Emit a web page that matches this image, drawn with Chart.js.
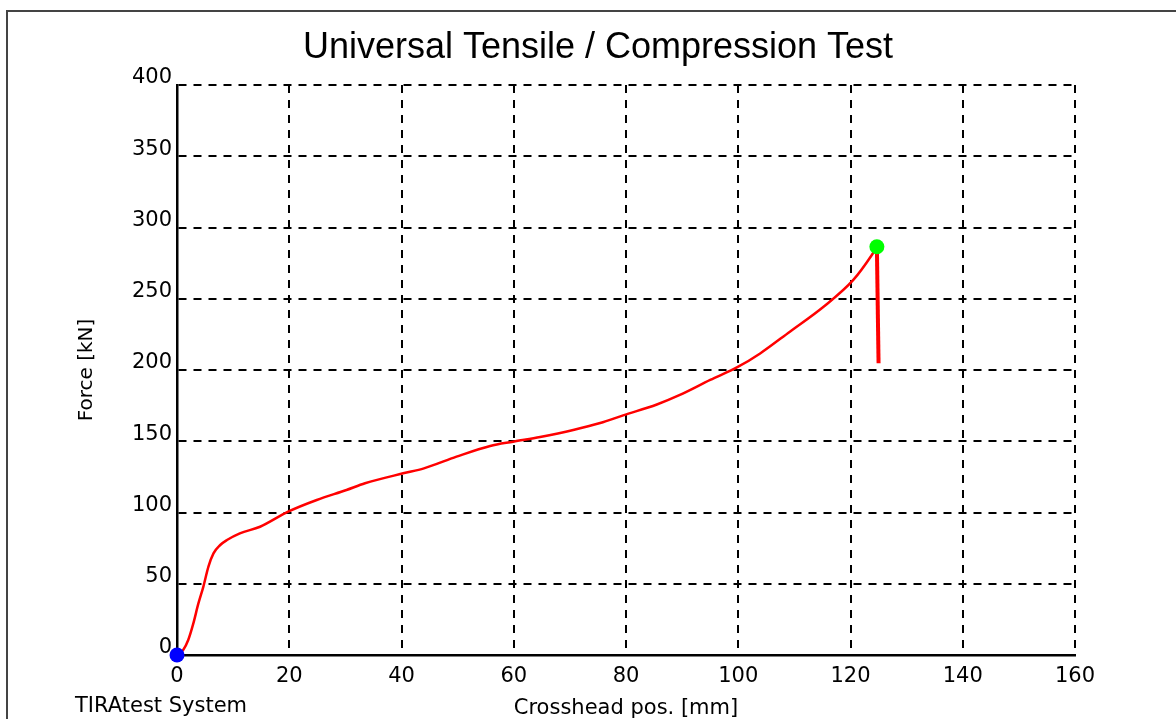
<!DOCTYPE html>
<html>
<head>
<meta charset="utf-8">
<title>Universal Tensile / Compression Test</title>
<script src="https://cdn.jsdelivr.net/npm/chart.js@4"></script>
<style>
  body { margin: 0; background: #fff; }
  #wrap { width: 1176px; height: 719px; position: relative; }
</style>
</head>
<body>
<div id="wrap"><canvas id="tensileChart"></canvas></div>
<script>
// Crosshead position [mm] and force [kN]
const crossheadPos = [0, 1.1, 2.0, 2.9, 3.8, 4.7, 5.6, 6.5, 7.7, 8.9, 11.2, 14.8, 19.8, 24.9, 30.2, 33.5,
    40.3, 44, 49.8, 55.8, 59.9, 64.7, 70.6, 75.4, 79.5, 85.5, 89.6, 95, 100, 103.9, 109.2, 115.2,
    120.5, 123.8, 124.7];
const force = [0, 3.5, 10.5, 22, 36, 48, 62, 71.3, 77.2, 80.7, 85.4, 90, 100.6, 108.8, 115.8, 120.5,
    127.5, 131, 139.2, 146.7, 149.7, 153, 157.9, 162.8, 168.2, 175.8, 182.5, 193, 202.3, 211.6, 226.9,
    244.4, 263.2, 280.7, 286.5];

// Break (drop after maximum force)
const breakPos = [124.7, 125.0];
const breakForce = [286.5, 204.7];

const xTicks = [0, 20, 40, 60, 80, 100, 120, 140, 160];
const yTicks = [0, 50, 100, 150, 200, 250, 300, 350, 400];

const toPoints = (xs, ys) => xs.map((x, i) => ({ x: x, y: ys[i] }));
const curve = toPoints(crossheadPos, force);
const breakLine = toPoints(breakPos, breakForce);
const startPoint = [curve[0]];
const maxPoint = [curve[curve.length - 1]];

// frame, main title and footer text
const extras = {
    id: 'extras',
    beforeDraw(chart) {
        const c = chart.ctx;
        c.save();
        c.fillStyle = '#fff';
        c.fillRect(0, 0, chart.width, chart.height);
        c.strokeStyle = '#444';
        c.lineWidth = 2;
        c.strokeRect(7, 11, 1300, 900);
        c.restore();
    },
    afterDraw(chart) {
        const c = chart.ctx;
        c.save();
        c.fillStyle = '#000';
        c.textBaseline = 'middle';
        c.textAlign = 'center';
        c.font = '36px "Liberation Sans"';
        c.fillText('Universal Tensile / Compression Test', 598, 48);
        c.textAlign = 'left';
        c.font = '21px "DejaVu Sans"';
        c.fillText('TIRAtest System', 75, 707);
        c.restore();
    }
};

Chart.defaults.font.family = '"DejaVu Sans"';
Chart.defaults.color = '#000';

const ctx = document.getElementById('tensileChart').getContext('2d');
const tensileChart = new Chart(ctx, {
    type: 'scatter',
    data: {
        datasets: [
            {
                label: 'Start',
                data: startPoint,
                pointRadius: 7.5,
                pointBackgroundColor: '#0000ff',
                pointBorderWidth: 0,
                clip: false,
                order: 0
            },
            {
                label: 'Fmax',
                data: maxPoint,
                pointRadius: 7.5,
                pointBackgroundColor: '#00ff00',
                pointBorderWidth: 0,
                clip: false,
                order: 1
            },
            {
                label: 'Force',
                data: curve,
                showLine: true,
                borderColor: '#ff0000',
                borderWidth: 2.5,
                pointRadius: 0,
                cubicInterpolationMode: 'monotone',
                order: 3
            },
            {
                label: 'Break',
                data: breakLine,
                showLine: true,
                borderColor: '#ff0000',
                borderWidth: 4,
                pointRadius: 0,
                order: 2
            }
        ]
    },
    options: {
        responsive: true,
        maintainAspectRatio: false,
        animation: false,
        devicePixelRatio: 1,
        layout: { padding: { top: 85, right: 101, left: 0, bottom: 0 } },
        plugins: {
            legend: { display: false },
            tooltip: { enabled: false }
        },
        scales: {
            x: {
                type: 'linear',
                min: 0,
                max: 160,
                afterBuildTicks: (scale) => { scale.ticks = xTicks.map(v => ({ value: v })); },
                afterFit: (scale) => {
                    scale.height = 64;
                    scale.paddingLeft = 0;
                    scale.paddingRight = 0;
                },
                ticks: { font: { size: 21 }, padding: 9, maxRotation: 0 },
                grid: { color: '#000', lineWidth: 2, drawTicks: false },
                border: { color: '#000', width: 2.5, dash: [8, 7] },
                title: {
                    display: true,
                    text: 'Crosshead pos. [mm]',
                    font: { size: 21 },
                    padding: { top: 0, bottom: -2 }
                }
            },
            y: {
                type: 'linear',
                min: 0,
                max: 400,
                afterBuildTicks: (scale) => { scale.ticks = yTicks.map(v => ({ value: v })); },
                afterFit: (scale) => {
                    scale.width = 177;
                    scale.paddingTop = 0;
                    scale.paddingBottom = 0;
                },
                ticks: { font: { size: 21 }, padding: 5, labelOffset: -7 },
                grid: { color: '#000', lineWidth: 2, drawTicks: false },
                border: { color: '#000', width: 2.5, dash: [8, 7] },
                title: {
                    display: true,
                    text: 'Force [kN]',
                    font: { size: 20 },
                    padding: { top: 75, bottom: 0 }
                }
            }
        }
    },
    plugins: [extras]
});
</script>
</body>
</html>
